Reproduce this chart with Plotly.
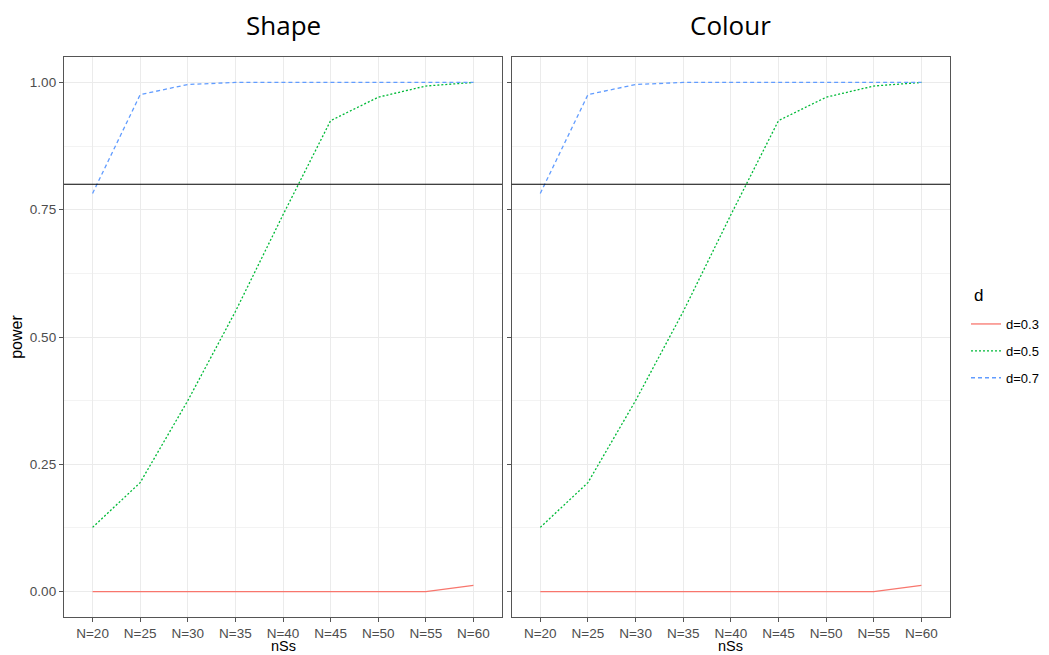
import plotly.graph_objects as go

categories = ["N=20", "N=25", "N=30", "N=35", "N=40", "N=45", "N=50", "N=55", "N=60"]
panels = ["Shape", "Colour"]
series_names = ["d=0.3", "d=0.5", "d=0.7"]
x_title = "nSs"
y_title = "power"
legend_title = "d"

shape_d03 = [0.0, 0.0, 0.0, 0.0, 0.0, 0.0, 0.0, 0.0, 0.012]
shape_d05 = [0.126, 0.214, 0.375, 0.55, 0.74, 0.925, 0.971, 0.993, 1.0]
shape_d07 = [0.782, 0.976, 0.996, 1.0, 1.0, 1.0, 1.0, 1.0, 1.0]

colour_d03 = [0.0, 0.0, 0.0, 0.0, 0.0, 0.0, 0.0, 0.0, 0.012]
colour_d05 = [0.126, 0.214, 0.375, 0.55, 0.74, 0.925, 0.971, 0.993, 1.0]
colour_d07 = [0.782, 0.976, 0.996, 1.0, 1.0, 1.0, 1.0, 1.0, 1.0]

threshold = 0.8
y_ticks = [0.0, 0.25, 0.5, 0.75, 1.0]
y_ticklabels = ["0.00", "0.25", "0.50", "0.75", "1.00"]

data = {"Shape": [shape_d03, shape_d05, shape_d07],
        "Colour": [colour_d03, colour_d05, colour_d07]}
colors = ["#F8766D", "#00BA38", "#619CFF"]
dashes = ["solid", "2px,2px", "4px,3px"]

# page body has an 8px margin: figure coordinates = screen - 8
OFF = 8
W, H = 1049 - OFF, 655 - OFF
left, right, top, bottom = 64 - OFF, 950 - OFF, 57 - OFF, 617 - OFF
ml, mr, mt, mb = left, W - right, top, H - bottom
pw = right - left
ph = bottom - top
x1_dom = [0, 438 / pw]
x2_dom = [(511.7 - OFF - left) / pw, 1]

FONT = "Liberation Sans, Arial"

fig = go.Figure()
for pi, panel in enumerate(panels):
    xa = "x" if pi == 0 else "x2"
    ya = "y" if pi == 0 else "y2"
    for si, name in enumerate(series_names):
        fig.add_trace(go.Scatter(
            x=categories, y=data[panel][si], mode="lines", name=name,
            line=dict(color=colors[si], dash=dashes[si], width=1.3),
            xaxis=xa, yaxis=ya, legendgroup=name, showlegend=(pi == 0)))
    fig.add_shape(type="line", xref=xa + " domain", yref=ya, x0=0, x1=1,
                  y0=threshold, y1=threshold, line=dict(color="black", width=1.2))

axis_common = dict(showline=True, mirror=True, linecolor="#555555", linewidth=1.3,
                   ticks="outside", ticklen=4, tickcolor="#555555", tickwidth=1,
                   gridcolor="#EBEBEB", gridwidth=1, zeroline=False, automargin=False,
                   tickfont=dict(family=FONT, size=13.5, color="#4D4D4D"))

xcommon = dict(axis_common, type="category", range=[-0.6, 8.6])
ycommon = dict(axis_common, range=[-0.05, 1.05], tickvals=y_ticks, ticktext=y_ticklabels,
               minor=dict(tickvals=[0.125, 0.375, 0.625, 0.875], showgrid=True,
                          gridcolor="#F3F3F3", gridwidth=0.6, ticks=""))

fig.update_layout(
    width=W, height=H,
    margin=dict(l=ml, r=mr, t=mt, b=mb, autoexpand=False),
    paper_bgcolor="white", plot_bgcolor="white",
    xaxis=dict(xcommon, domain=x1_dom, anchor="y"),
    xaxis2=dict(xcommon, domain=x2_dom, anchor="y2"),
    yaxis=dict(ycommon, anchor="x",
               title=dict(text=y_title, standoff=5,
                          font=dict(family=FONT, size=16, color="black"))),
    yaxis2=dict(ycommon, anchor="x2", showticklabels=False),
    legend=dict(x=(966 - OFF - left) / pw, xanchor="left",
                y=(bottom - (351 - OFF)) / ph, yanchor="middle",
                font=dict(family=FONT, size=13, color="black"),
                tracegroupgap=7, itemwidth=30, bgcolor="rgba(0,0,0,0)"),
    showlegend=True,
)

# legend title
fig.add_annotation(text=legend_title, xref="paper", yref="paper",
                   x=(972 - OFF - left) / pw, y=(bottom - (295 - OFF)) / ph,
                   showarrow=False, xanchor="left", yanchor="middle",
                   font=dict(family=FONT, size=17, color="black"))

for pi, panel in enumerate(panels):
    dom = x1_dom if pi == 0 else x2_dom
    cx = (dom[0] + dom[1]) / 2
    # panel title
    fig.add_annotation(text=panel, xref="paper", yref="paper",
                       x=cx, y=1 + (57 - 25) / ph,
                       showarrow=False, xanchor="center", yanchor="middle",
                       font=dict(family="Open Sans", size=26, color="black"))
    # x axis title
    fig.add_annotation(text=x_title, xref="paper", yref="paper",
                       x=cx, y=-(646 - 617) / ph,
                       showarrow=False, xanchor="center", yanchor="middle",
                       font=dict(family=FONT, size=14.5, color="black"))

fig.write_html("out.html")
